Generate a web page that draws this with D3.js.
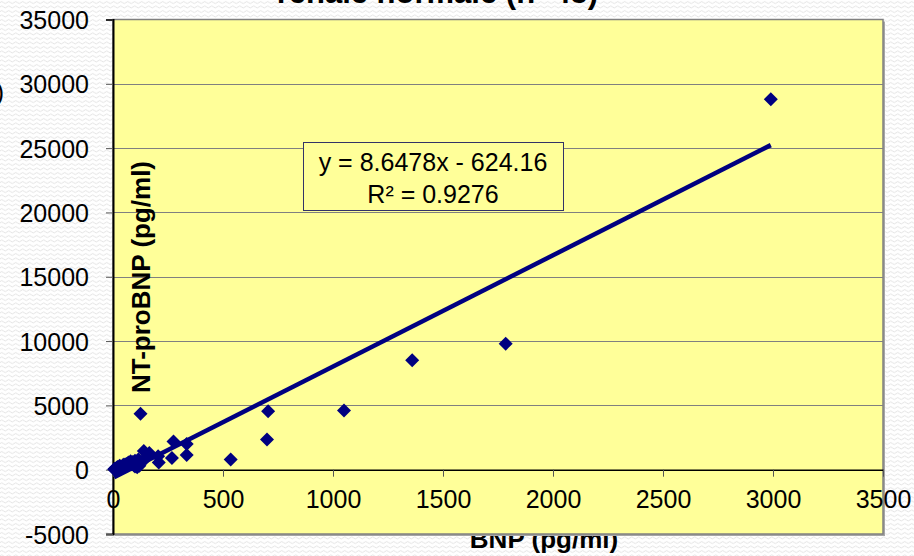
<!DOCTYPE html>
<html>
<meta charset="utf-8">
<style>
body{ margin:0; padding:0; background:#fff; }
svg{ display:block; font-family:Arial, "Liberation Sans", sans-serif; }
.tick text{ font-size:25px; fill:#000; }
.axtitle{ font-size:26px; font-weight:bold; }
</style>
<body>
<svg width="914" height="556"></svg>
<script src="https://d3js.org/d3.v7.min.js"></script>
<script>

// BNP (pg/ml) vs NT-proBNP (pg/ml)
var bnp = [2990, 1785, 1360, 1050, 705, 700, 535, 125, 275, 335,
           335, 268, 208, 205, 140, 165, 150, 120, 130, 100,
           5, 10, 15, 20, 25, 30, 35, 40, 45, 50,
           55, 60, 65, 70, 75, 80, 85, 90, 95, 100,
           105, 110, 115, 12, 8];
var ntprobnp = [28800, 9800, 8500, 4600, 4550, 2350, 800, 4350, 2200, 2000,
                1150, 900, 550, 1050, 1450, 1300, 900, 300, 600, 700,
                30, 80, 120, 200, 150, 300, 250, 180, 350, 400,
                300, 450, 380, 550, 500, 650, 420, 600, 350, 250,
                450, 180, 800, 10, 60];

var xTicks = [0, 500, 1000, 1500, 2000, 2500, 3000, 3500];
var yTicks = [-5000, 0, 5000, 10000, 15000, 20000, 25000, 30000, 35000];

// linear trendline as given by the spreadsheet
var slope = 8.6478, intercept = -624.16, r2 = 0.9276;

var svg = d3.select("svg");

var x = d3.scaleLinear().domain([0, 3500]).range([113, 883]);
var y = d3.scaleLinear().domain([-5000, 35000]).range([534, 19.5]);

// plain number format with an ascii hyphen for negatives
var fmt = function(d) { return String(d); };

// wavy background texture
var defs = svg.append("defs");
var pat = defs.append("pattern")
    .attr("id", "waves")
    .attr("patternUnits", "userSpaceOnUse")
    .attr("width", 7).attr("height", 4.5);
pat.append("path")
    .attr("d", "M0,2.5 Q1.75,0.5 3.5,2.5 T7,2.5")
    .attr("fill", "none")
    .attr("stroke", "#dedede")
    .attr("stroke-width", 0.9);

svg.append("rect").attr("width", 914).attr("height", 556).attr("fill", "#fff");
svg.append("rect").attr("width", 914).attr("height", 556).attr("fill", "url(#waves)");

// title, mostly cut off at the top
var title = svg.append("text")
    .attr("class", "axtitle")
    .attr("text-anchor", "end")
    .style("font-size", "31px");
title.append("tspan").attr("x", 598).attr("y", -32).text("NT-proBNP vs BNP - funzione");
title.append("tspan").attr("x", 598).attr("y", 3).text("renale normale (n=45)");

// leftover of a cut label at the left edge
svg.append("text")
    .attr("x", 4).attr("y", 101)
    .attr("text-anchor", "end")
    .style("font-size", "25px")
    .text(")");

// x axis title (drawn first, plot area covers its top)
svg.append("text")
    .attr("class", "axtitle")
    .attr("x", 544).attr("y", 548)
    .attr("text-anchor", "middle")
    .text("BNP (pg/ml)");

// plot area with shadow
svg.append("rect")
    .attr("x", x(0) + 2).attr("y", y(35000) + 2)
    .attr("width", x(3500) - x(0)).attr("height", y(-5000) - y(35000))
    .attr("fill", "#a6a6a6");
svg.append("rect")
    .attr("x", x(0)).attr("y", y(35000))
    .attr("width", x(3500) - x(0)).attr("height", y(-5000) - y(35000))
    .attr("fill", "#ffff99")
    .attr("stroke", "#808080")
    .attr("stroke-width", 1.5);

// gridlines
svg.append("g").selectAll("line")
    .data(yTicks.filter(function(d) { return d > 0 && d < 35000; }))
    .enter().append("line")
      .attr("x1", x(0)).attr("x2", x(3500))
      .attr("y1", function(d) { return Math.round(y(d)) + 0.5; })
      .attr("y2", function(d) { return Math.round(y(d)) + 0.5; })
      .attr("stroke", "#808080")
      .attr("stroke-width", 1);

// y axis
var yAxis = svg.append("g")
    .attr("transform", "translate(" + x(0) + ",0)")
    .call(d3.axisLeft(y).tickValues(yTicks).tickSize(7).tickPadding(17).tickFormat(fmt));
yAxis.select(".domain").attr("stroke", "#000").attr("stroke-width", 2);
yAxis.selectAll(".tick line").attr("stroke", "#555");
yAxis.selectAll(".tick text").attr("dy", "0.36em");

// x axis sits on y = 0
var xAxis = svg.append("g")
    .attr("transform", "translate(0," + y(0) + ")")
    .call(d3.axisBottom(x).tickValues(xTicks).tickSize(7).tickSizeOuter(0).tickPadding(14).tickFormat(fmt));
xAxis.select(".domain").attr("stroke", "#000").attr("stroke-width", 1.5);
xAxis.selectAll(".tick line").attr("stroke", "#555");
xAxis.selectAll(".tick text").attr("dy", "0.71em");

// y axis title inside the plot
svg.append("text")
    .attr("class", "axtitle")
    .attr("transform", "translate(150,277) rotate(-90)")
    .attr("text-anchor", "middle")
    .text("NT-proBNP (pg/ml)");

// trendline
var xmin = d3.min(bnp), xmax = d3.max(bnp);
svg.append("line")
    .attr("x1", x(xmin)).attr("y1", y(slope * xmin + intercept))
    .attr("x2", x(xmax)).attr("y2", y(slope * xmax + intercept))
    .attr("stroke", "#000080")
    .attr("stroke-width", 4.5);

// points
var diamond = d3.symbol().type(d3.symbolDiamond2).size(125);
svg.append("g").selectAll("path")
    .data(d3.range(bnp.length))
    .enter().append("path")
      .attr("d", diamond)
      .attr("transform", function(i) { return "translate(" + x(bnp[i]) + "," + y(ntprobnp[i]) + ")"; })
      .attr("fill", "#000080");

// equation label
var box = svg.append("g");
box.append("rect")
    .attr("x", 303.5).attr("y", 142.5)
    .attr("width", 260).attr("height", 68)
    .attr("fill", "#ffff99")
    .attr("stroke", "#333366")
    .attr("stroke-width", 1);
box.append("text")
    .attr("x", 433).attr("y", 171)
    .attr("text-anchor", "middle")
    .style("font-size", "25px")
    .text("y = " + slope + "x - " + Math.abs(intercept));
box.append("text")
    .attr("x", 433).attr("y", 203)
    .attr("text-anchor", "middle")
    .style("font-size", "25px")
    .text("R² = " + r2);

</script>
</body>
</html>
